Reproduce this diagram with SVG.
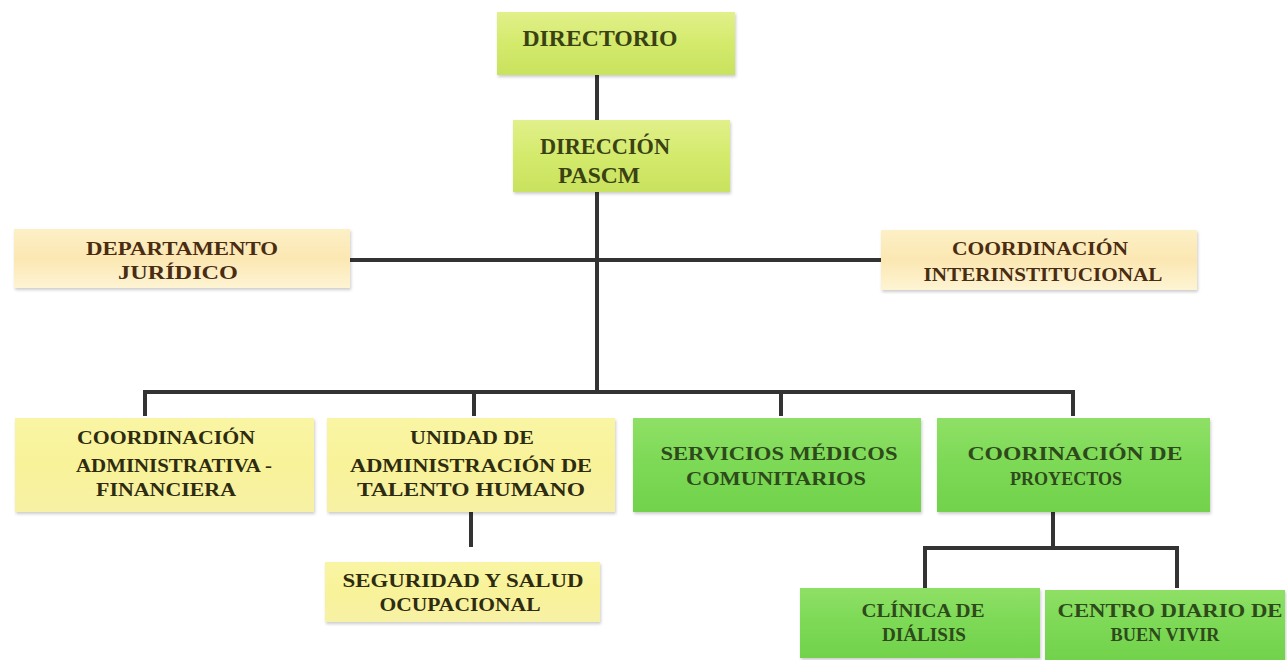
<svg xmlns="http://www.w3.org/2000/svg" width="1287" height="660" viewBox="0 0 1287 660">
<defs>
<linearGradient id="gTop" x1="0" y1="0" x2="0" y2="1"><stop offset="0" stop-color="#e2f08a"/><stop offset="0.5" stop-color="#d3ea6c"/><stop offset="1" stop-color="#c9e25e"/></linearGradient>
<linearGradient id="gBeige" x1="0" y1="0" x2="0" y2="1"><stop offset="0" stop-color="#fdf0c6"/><stop offset="0.5" stop-color="#fbe7b2"/><stop offset="1" stop-color="#fef4d4"/></linearGradient>
<linearGradient id="gYellow" x1="0" y1="0" x2="0" y2="1"><stop offset="0" stop-color="#faf5a4"/><stop offset="0.5" stop-color="#f8f299"/><stop offset="1" stop-color="#f7f1a6"/></linearGradient>
<linearGradient id="gGreen" x1="0" y1="0" x2="0" y2="1"><stop offset="0" stop-color="#8fe066"/><stop offset="0.5" stop-color="#7cd955"/><stop offset="1" stop-color="#72d24c"/></linearGradient>
<filter id="sh" x="-5%" y="-10%" width="110%" height="125%"><feDropShadow dx="1" dy="2" stdDeviation="1.5" flood-color="#000" flood-opacity="0.2"/></filter>
</defs>
<style>
text{font-family:"Liberation Serif","Times New Roman",serif;font-weight:bold;text-anchor:middle}
.t1{font-size:23px;fill:#3a4214}
.tb{font-size:18px;fill:#4a2c12}
.ty{font-size:18px;fill:#2e2c10}
.tg{font-size:18px;fill:#2e4a1a}
.box{filter:url(#sh)}
.ln{stroke:#333333;stroke-width:4;fill:none;stroke-linecap:butt}
</style>
<rect width="1287" height="660" fill="#ffffff"/>
<g id="connectors">
<line class="ln" x1="597" y1="75" x2="597" y2="120"/>
<line class="ln" x1="597" y1="192" x2="597" y2="392"/>
<line class="ln" x1="350" y1="260" x2="881" y2="260"/>
<polyline class="ln" points="145,416 145,392 1073,392 1073,416"/>
<line class="ln" x1="474" y1="392" x2="474" y2="416"/>
<line class="ln" x1="781" y1="392" x2="781" y2="416"/>
<line class="ln" x1="471" y1="512" x2="471" y2="547"/>
<line class="ln" x1="1053" y1="512" x2="1053" y2="548"/>
<polyline class="ln" points="925,588 925,548 1177,548 1177,588"/>
</g>
<g id="directorio">
<rect class="box" x="497" y="12" width="238" height="63" fill="url(#gTop)"/>
<text class="t1" x="600" y="46" textLength="155" lengthAdjust="spacingAndGlyphs">DIRECTORIO</text>
</g>
<g id="direccion">
<rect class="box" x="513" y="120" width="217" height="72" fill="url(#gTop)"/>
<text class="t1" x="605" y="154" textLength="130" lengthAdjust="spacingAndGlyphs">DIRECCIÓN</text>
<text class="t1" x="599" y="183" textLength="82" lengthAdjust="spacingAndGlyphs">PASCM</text>
</g>
<g id="juridico">
<rect class="box" x="14" y="229" width="336" height="59" fill="url(#gBeige)"/>
<text class="tb" x="182" y="255" textLength="192" lengthAdjust="spacingAndGlyphs">DEPARTAMENTO</text>
<text class="tb" x="178" y="279" textLength="120" lengthAdjust="spacingAndGlyphs">JURÍDICO</text>
</g>
<g id="interinstitucional">
<rect class="box" x="881" y="230" width="316" height="60" fill="url(#gBeige)"/>
<text class="tb" x="1040" y="255" textLength="176" lengthAdjust="spacingAndGlyphs">COORDINACIÓN</text>
<text class="tb" x="1043" y="281" textLength="239" lengthAdjust="spacingAndGlyphs">INTERINSTITUCIONAL</text>
</g>
<g id="administrativa">
<rect class="box" x="15" y="418" width="299" height="94" fill="url(#gYellow)"/>
<text class="ty" x="166" y="444" textLength="178" lengthAdjust="spacingAndGlyphs">COORDINACIÓN</text>
<text class="ty" x="174" y="472" textLength="196" lengthAdjust="spacingAndGlyphs">ADMINISTRATIVA -</text>
<text class="ty" x="166" y="496" textLength="140" lengthAdjust="spacingAndGlyphs">FINANCIERA</text>
</g>
<g id="talento">
<rect class="box" x="327" y="418" width="288" height="94" fill="url(#gYellow)"/>
<text class="ty" x="472" y="444" textLength="124" lengthAdjust="spacingAndGlyphs">UNIDAD DE</text>
<text class="ty" x="471" y="472" textLength="242" lengthAdjust="spacingAndGlyphs">ADMINISTRACIÓN DE</text>
<text class="ty" x="471" y="496" textLength="228" lengthAdjust="spacingAndGlyphs">TALENTO HUMANO</text>
</g>
<g id="servicios">
<rect class="box" x="633" y="418" width="288" height="94" fill="url(#gGreen)"/>
<text class="tg" x="779" y="460" textLength="237" lengthAdjust="spacingAndGlyphs">SERVICIOS MÉDICOS</text>
<text class="tg" x="776" y="485" textLength="180" lengthAdjust="spacingAndGlyphs">COMUNITARIOS</text>
</g>
<g id="proyectos">
<rect class="box" x="937" y="418" width="273" height="94" fill="url(#gGreen)"/>
<text class="tg" x="1075" y="460" textLength="215" lengthAdjust="spacingAndGlyphs">COORINACIÓN  DE</text>
<text class="tg" x="1066" y="485" textLength="112" lengthAdjust="spacingAndGlyphs">PROYECTOS</text>
</g>
<g id="seguridad">
<rect class="box" x="325" y="562" width="275" height="60" fill="url(#gYellow)"/>
<text class="ty" x="463" y="587" textLength="241" lengthAdjust="spacingAndGlyphs">SEGURIDAD Y SALUD</text>
<text class="ty" x="460" y="611" textLength="161" lengthAdjust="spacingAndGlyphs">OCUPACIONAL</text>
</g>
<g id="clinica">
<rect class="box" x="800" y="588" width="240" height="70" fill="url(#gGreen)"/>
<text class="tg" x="923" y="617" textLength="123" lengthAdjust="spacingAndGlyphs">CLÍNICA DE</text>
<text class="tg" x="924" y="641" textLength="84" lengthAdjust="spacingAndGlyphs">DIÁLISIS</text>
</g>
<g id="centro">
<rect class="box" x="1045" y="590" width="240" height="70" fill="url(#gGreen)"/>
<text class="tg" x="1170" y="617" textLength="225" lengthAdjust="spacingAndGlyphs">CENTRO DIARIO DE</text>
<text class="tg" x="1165" y="641" textLength="109" lengthAdjust="spacingAndGlyphs">BUEN VIVIR</text>
</g>
</svg>
